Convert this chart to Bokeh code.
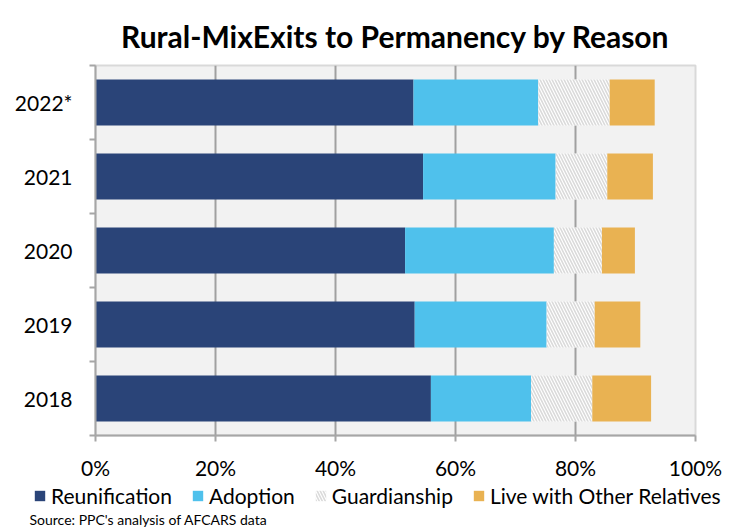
from bokeh.plotting import figure
from bokeh.models import (ColumnDataSource, Range1d, FixedTicker, Legend, LegendItem, Label)
from bokeh.layouts import column
from bokeh.transform import stack
from bokeh.embed import file_html
from bokeh.resources import INLINE

years = ["2018", "2019", "2020", "2021", "2022*"]
reunification = [55.9, 53.2, 51.6, 54.6, 53.0]
adoption = [16.7, 22.0, 24.8, 22.1, 20.8]
guardianship = [10.2, 8.0, 8.0, 8.6, 11.9]
relatives = [9.8, 7.6, 5.5, 7.6, 7.5]
x_ticks = [0, 20, 40, 60, 80, 100]

series = ["reunification", "adoption", "guardianship", "relatives"]
labels = ["Reunification", "Adoption", "Guardianship", "Live with Other Relatives"]
colors = ["#2a4478", "#4fc1ec", "#ffffff", "#e9b252"]
HATCH = dict(hatch_pattern="left_diagonal_line", hatch_color="#dadada",
             hatch_scale=6, hatch_weight=1.6)

ypos = [i + 0.5 for i in range(len(years))]
src = ColumnDataSource(dict(y=ypos, reunification=reunification, adoption=adoption,
                            guardianship=guardianship, relatives=relatives))

FONT = "Lato"
W = 729

p = figure(width=W, height=482, output_backend="svg", toolbar_location=None,
           x_range=Range1d(0, 100), y_range=Range1d(0, len(years)),
           min_border_left=95, min_border_right=34, min_border_top=65,
           min_border_bottom=44)
p.frame_align = False

p.background_fill_color = "#f2f2f2"
p.border_fill_color = "white"
p.outline_line_color = "#d9d9d9"
p.outline_line_width = 2

for i, s in enumerate(series):
    kw = HATCH if s == "guardianship" else {}
    p.hbar(y="y", height=0.62, left=stack(*series[:i]), right=stack(*series[:i + 1]),
           source=src, fill_color=colors[i], line_color=None, **kw)

# title
p.title.text = "Rural-MixExits to Permanency by Reason"
p.title.text_font = FONT
p.title.text_font_size = "30px"
p.title.text_font_style = "bold"
p.title.align = "center"
p.title.text_color = "#000000"
p.title.standoff = 23

# x axis
p.xaxis.ticker = FixedTicker(ticks=x_ticks)
p.xaxis.major_label_overrides = {t: f"{t}%" for t in x_ticks}
p.xaxis.major_label_text_font = FONT
p.xaxis.major_label_text_font_size = "21px"
p.xaxis.major_label_text_color = "#000000"
p.xaxis.axis_line_color = "#a6a6a6"
p.xaxis.axis_line_width = 2
p.xaxis.major_tick_line_color = "#a6a6a6"
p.xaxis.major_tick_line_width = 2
p.xaxis.major_tick_out = 6
p.xaxis.major_tick_in = 0
p.xaxis.minor_tick_line_color = None
p.xaxis.major_label_standoff = 13

# y axis
p.yaxis.ticker = FixedTicker(ticks=ypos, minor_ticks=list(range(len(years) + 1)))
p.yaxis.major_label_overrides = {y: lab for y, lab in zip(ypos, years)}
p.yaxis.major_label_text_font = FONT
p.yaxis.major_label_text_font_size = "21px"
p.yaxis.major_label_text_color = "#000000"
p.yaxis.axis_line_color = "#a6a6a6"
p.yaxis.axis_line_width = 2
p.yaxis.major_tick_line_color = None
p.yaxis.major_tick_out = 0
p.yaxis.major_tick_in = 0
p.yaxis.minor_tick_line_color = "#a6a6a6"
p.yaxis.minor_tick_line_width = 2
p.yaxis.minor_tick_out = 6
p.yaxis.minor_tick_in = 0
p.yaxis.major_label_standoff = 17

p.xgrid.grid_line_color = "#a0a0a0"
p.xgrid.grid_line_width = 2
p.ygrid.grid_line_color = None

# legend strip: a second figure whose own bars lie outside its view
lf = figure(width=W, height=47, output_backend="svg", toolbar_location=None,
            x_range=Range1d(1000, 1001), y_range=Range1d(1000, 1001),
            x_axis_location=None, y_axis_location=None,
            min_border_left=0, min_border_right=0, min_border_top=0, min_border_bottom=0)
lf.frame_align = False
lf.grid.visible = False
lf.outline_line_color = None
lf.background_fill_color = "white"
lf.border_fill_color = "white"

leg_renderers = []
for i, s in enumerate(series):
    kw = HATCH if s == "guardianship" else {}
    r = lf.hbar(y="y", height=0.62, left=stack(*series[:i]), right=stack(*series[:i + 1]),
                source=src, fill_color=colors[i], line_color=None, **kw)
    leg_renderers.append(r)

legend = Legend(items=[LegendItem(label=l, renderers=[r]) for l, r in zip(labels, leg_renderers)],
                orientation="horizontal", location=(33, 21))
legend.label_text_font = FONT
legend.label_text_font_size = "21px"
legend.label_text_color = "#000000"
legend.glyph_width = 13
legend.glyph_height = 13
legend.label_height = 24
legend.label_standoff = 5
legend.spacing = 19
legend.padding = 0
legend.margin = 0
legend.border_line_color = None
legend.background_fill_alpha = 0
lf.add_layout(legend, "center")

src_label = Label(x=29, y=10, x_units="screen", y_units="screen",
                  text="Source: PPC's analysis of AFCARS data", text_font=FONT,
                  text_font_size="14px", text_color="#000000", text_baseline="middle")
lf.add_layout(src_label)

layout = column(p, lf, spacing=0)
open("out.html", "w").write(file_html(layout, INLINE))
